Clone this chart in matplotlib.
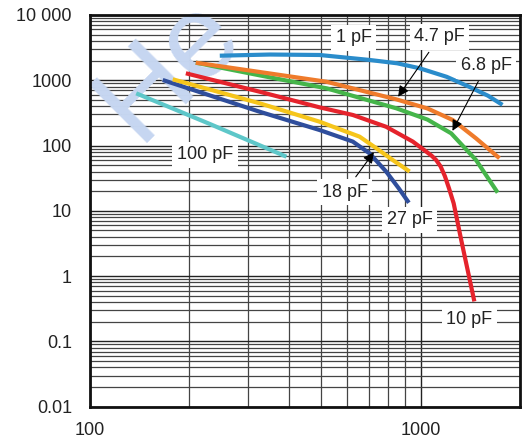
import matplotlib
matplotlib.use("Agg")
import matplotlib.pyplot as plt
from matplotlib.ticker import LogLocator, FixedLocator, NullFormatter

plt.rcParams['font.family'] = ['Liberation Sans', 'DejaVu Sans']

# curves (x, y pairs per capacitance)
x_1pF = [247, 350, 495, 700, 850, 993, 1200, 1400, 1600, 1770]
y_1pF = [2380, 2480, 2440, 2050, 1820, 1530, 1130, 800, 580, 420]

x_4p7 = [209, 326, 519, 845, 1050, 1252, 1472, 1733]
y_4p7 = [1860, 1340, 950, 510, 370, 246, 129, 64]

x_6p8 = [209, 326, 519, 845, 1050, 1238, 1472, 1712]
y_6p8 = [1860, 1190, 754, 372, 250, 154, 60, 19]

x_10pF = [195, 326, 495, 624, 787, 948, 1030, 1080, 1115, 1150, 1185, 1220, 1260, 1328, 1455]
y_10pF = [1280, 668, 385, 294, 194, 115, 84, 70, 60, 48, 34, 22, 13, 3.57, 0.41]

x_18pF = [178, 326, 495, 654, 735, 824, 927]
y_18pF = [1035, 444, 232, 137, 91, 60, 40]

x_27pF = [166, 326, 495, 624, 701, 787, 860, 922]
y_27pF = [1010, 330, 173, 115, 76, 40, 22, 13.3]

x_100pF = [138, 230, 393]
y_100pF = [631, 215, 67.5]

y_ticks = [0.01, 0.1, 1, 10, 100, 1000, 10000]
y_labels = ['0.01', '0.1', '1', '10', '100', '1000', '10 000']
x_ticks = [100, 1000]
x_labels = ['100', '1000']

fig = plt.figure(figsize=(5.25, 4.45), dpi=100)
ax = fig.add_axes([0.1714, 0.0861, 0.8191, 0.8802])
ax.set_xscale('log')
ax.set_yscale('log')
ax.set_xlim(100, 2000)
ax.set_ylim(0.01, 10000)

# grid
ax.xaxis.set_minor_locator(FixedLocator([200, 300, 400, 500, 600, 700, 800, 900]))
ax.yaxis.set_minor_locator(LogLocator(base=10, subs=range(2, 10), numticks=20))
ax.xaxis.set_minor_formatter(NullFormatter())
ax.yaxis.set_minor_formatter(NullFormatter())
ax.grid(True, which='major', color='#222222', lw=1.0)
ax.grid(True, which='minor', color='#444444', lw=0.9)
ax.set_axisbelow(True)

ax.set_xticks(x_ticks)
ax.set_xticklabels(x_labels)
ax.set_yticks(y_ticks)
ax.set_yticklabels(y_labels)
ax.tick_params(which='both', length=0, labelsize=13, colors='#222222')
ax.tick_params(axis='y', pad=13)
ax.tick_params(axis='x', pad=11)
for s in ax.spines.values():
    s.set_linewidth(2)
    s.set_color('#111111')

# faint watermark, under the curves
ax.text(138 / 525, 1 - 143 / 445, 'He', transform=fig.transFigure, clip_on=False,
        fontsize=85, color='#c6d6f1', rotation=45, rotation_mode='anchor',
        ha='left', va='baseline', zorder=2.5)

lw = 3.0
kw = dict(lw=lw, solid_capstyle='butt', solid_joinstyle='round', zorder=3)
ax.plot(x_100pF, y_100pF, color='#5ec7c9', **kw)
ax.plot(x_27pF, y_27pF, color='#2f4e9c', **kw)
ax.plot(x_18pF, y_18pF, color='#f6c51b', **kw)
ax.plot(x_10pF, y_10pF, color='#e5232c', **kw)
ax.plot(x_6p8, y_6p8, color='#45b54a', **kw)
ax.plot(x_4p7, y_4p7, color='#ef7b2b', **kw)
ax.plot(x_1pF, y_1pF, color='#2a8ccb', **kw)

box = dict(boxstyle='square,pad=0.25', fc='white', ec='none')
lab = dict(fontsize=13, ha='center', va='center', bbox=box, zorder=4, color='#222222')
ax.text(628, 4444, '1 pF', **lab)
ax.text(223, 71.7, '100 pF', **lab)
ax.text(927, 7.24, '27 pF', **lab)
ax.text(1406, 0.213, '10 pF', **lab)

arr = dict(arrowstyle='-|>', color='black', lw=0.8, mutation_scale=16)
ax.annotate('4.7 pF', xy=(846, 516), xytext=(1141, 4603), arrowprops=arr, **lab)
ax.annotate('6.8 pF', xy=(1238, 154), xytext=(1582, 1655), arrowprops=arr, **lab)
ax.annotate('18 pF', xy=(731, 85.5), xytext=(589, 19.4), arrowprops=arr, **lab)

fig.savefig('out.png', dpi=100)
